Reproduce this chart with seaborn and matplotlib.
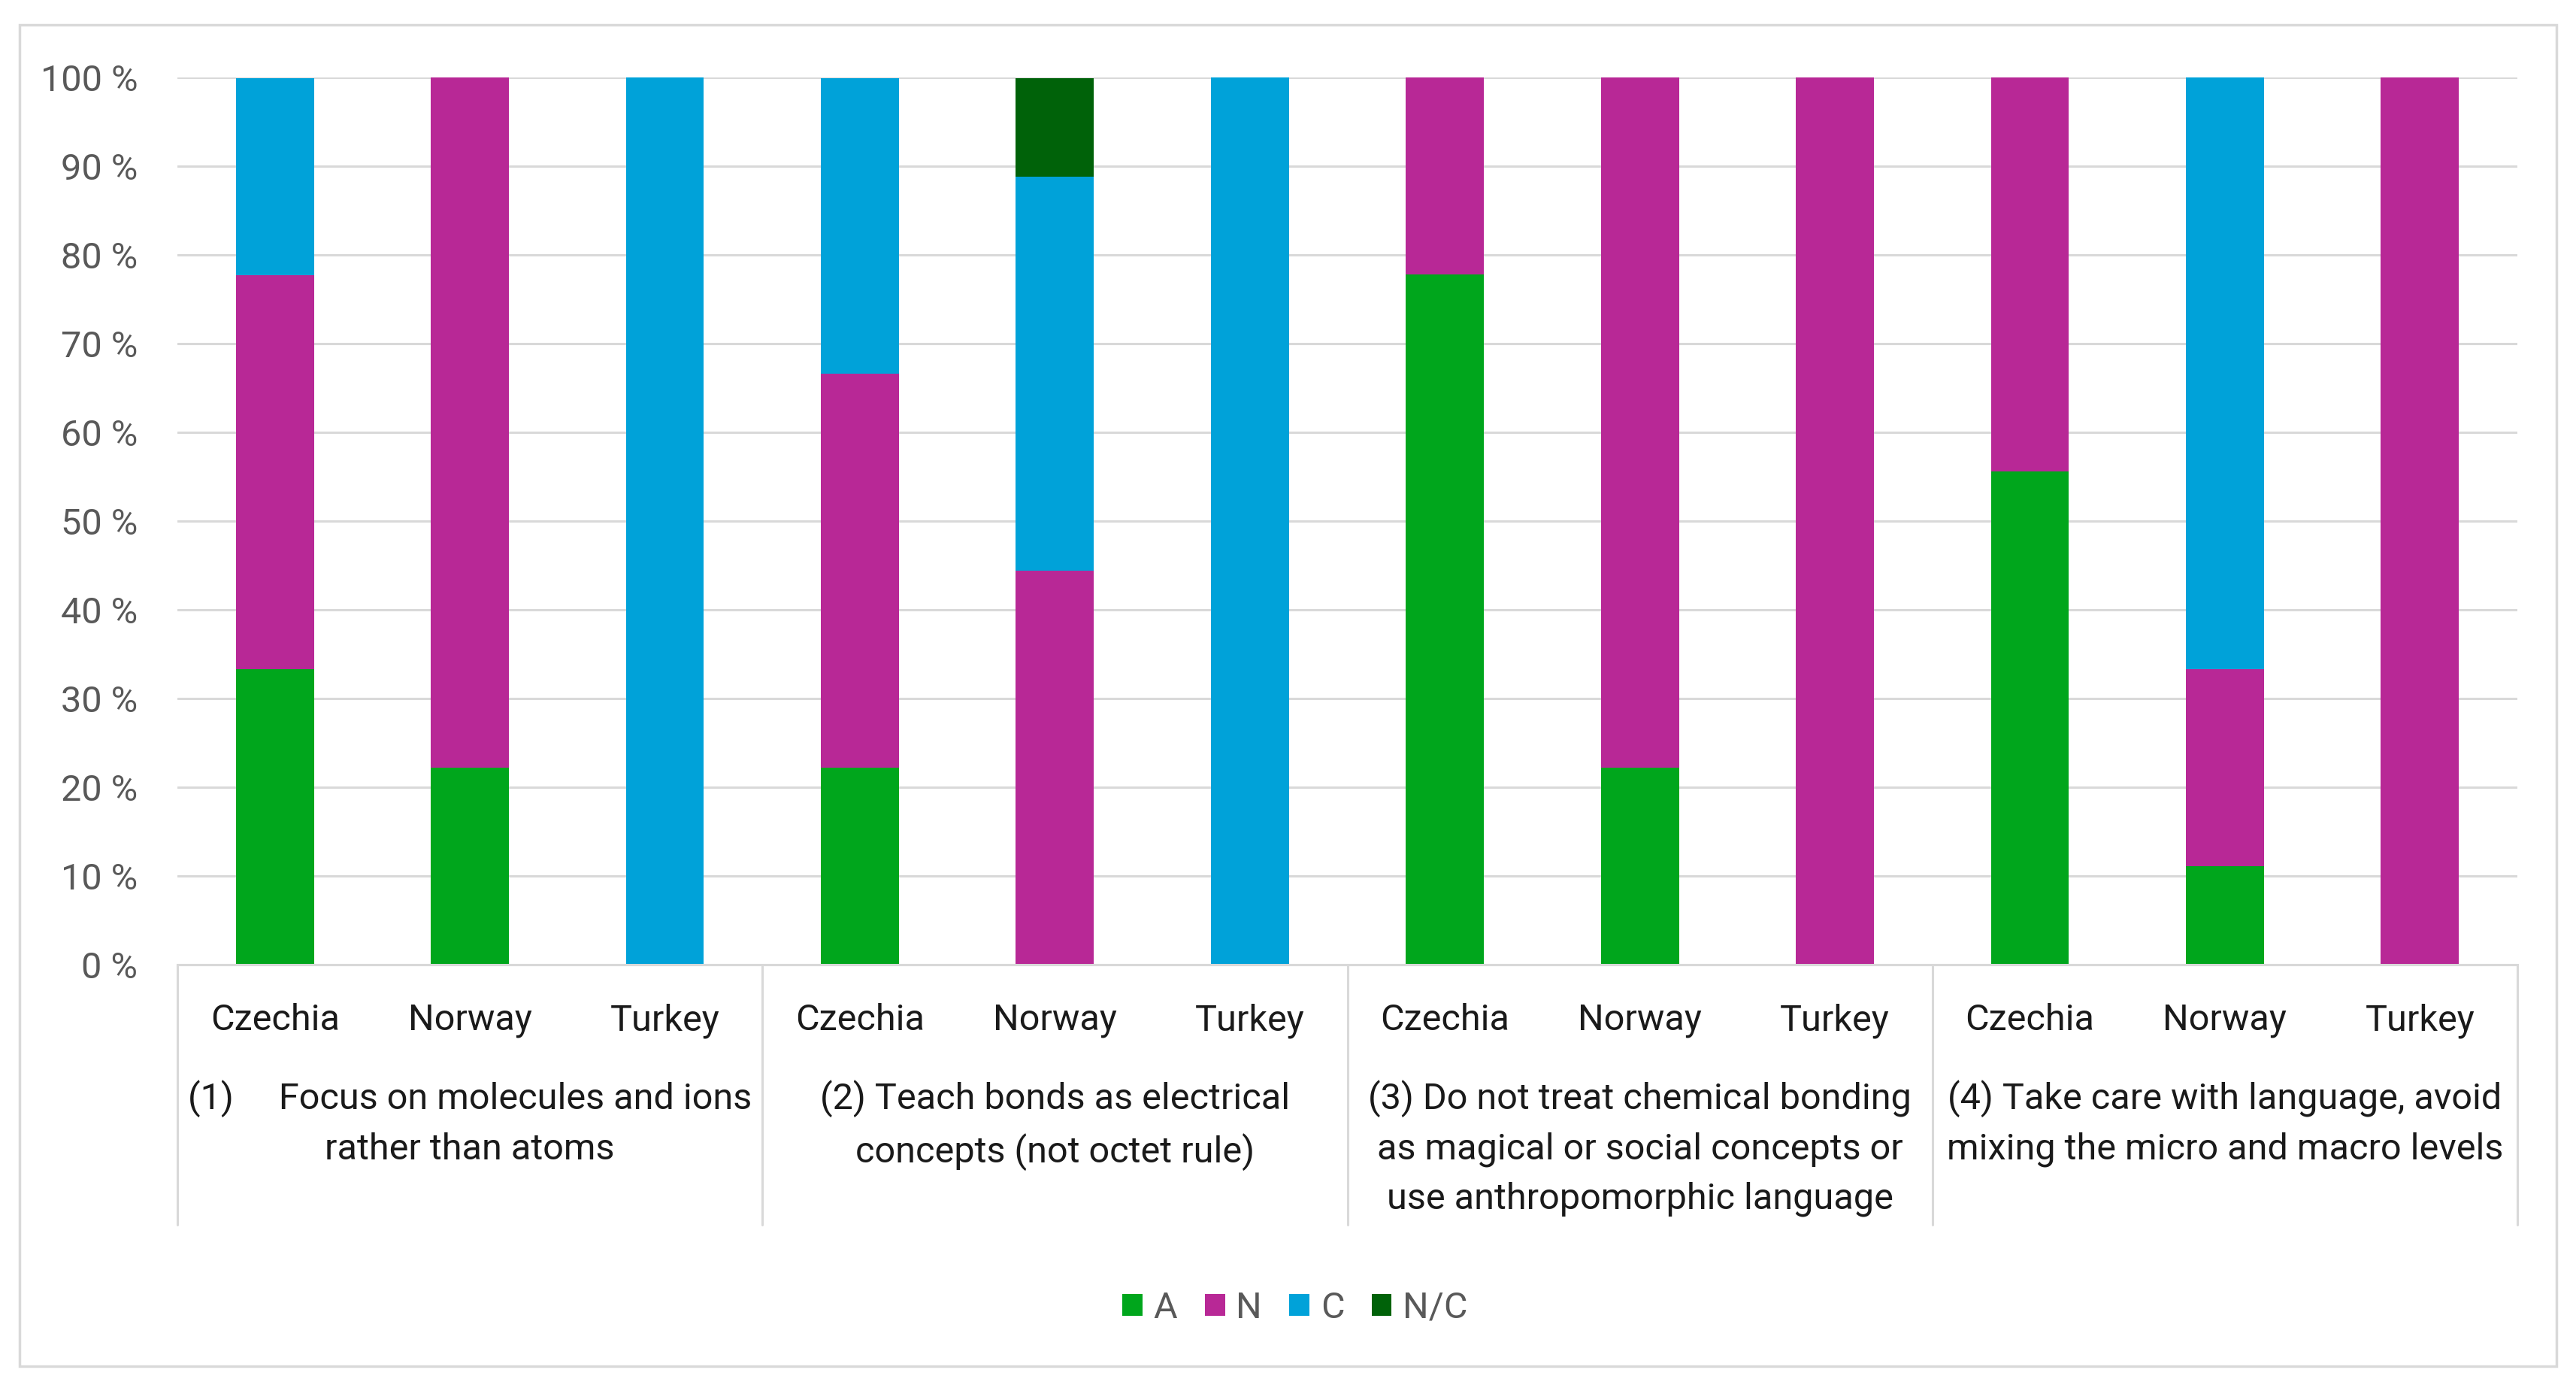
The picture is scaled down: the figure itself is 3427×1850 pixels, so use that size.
import numpy as np
import pandas as pd
import matplotlib
matplotlib.use("Agg")
import matplotlib.pyplot as plt
import matplotlib.transforms as mtransforms
from matplotlib.patches import Patch, Rectangle
import seaborn as sns

# ---------------- data ----------------
countries = ["Czechia", "Norway", "Turkey"] * 4
groups = [
    "(1)     Focus on molecules and ions\nrather than atoms",
    "(2) Teach bonds as electrical\nconcepts (not octet rule)",
    "(3) Do not treat chemical bonding\nas magical or social concepts or\nuse anthropomorphic language",
    "(4) Take care with language, avoid\nmixing the micro and macro levels",
]
series_names = ["A", "N", "C", "N/C"]
A_vals = [33.3, 22.2, 0, 22.2, 0, 0, 77.8, 22.2, 0, 55.6, 11.1, 0]
N_vals = [44.4, 77.8, 0, 44.4, 44.4, 0, 22.2, 77.8, 100, 44.4, 22.2, 100]
C_vals = [22.2, 0, 100, 33.3, 44.4, 100, 0, 0, 0, 0, 66.7, 0]
NC_vals = [0, 0, 0, 0, 11.1, 0, 0, 0, 0, 0, 0, 0]
yticks = [0, 10, 20, 30, 40, 50, 60, 70, 80, 90, 100]
ytick_labels = [f"{v} %" for v in yticks]

colors = ["#00A61C", "#B82896", "#00A2D9", "#006209"]

# ---------------- figure ----------------
sns.set_theme(style="white")
plt.rcParams["font.family"] = ["Roboto", "DejaVu Sans"]

FS = 35
W, H = 3427, 1850
fig = plt.figure(figsize=(W / 100, H / 100), dpi=100)
ax = fig.add_axes([236 / W, 1 - 1283 / H, (3349 - 236) / W, (1283 - 103) / H])

keys = [f"{i}-{c}" for i, c in enumerate(countries)]
df = pd.DataFrame({"key": keys, "A": A_vals, "N": N_vals, "C": C_vals, "N/C": NC_vals})

bottom = np.zeros(len(keys))
for name, col in zip(series_names, colors):
    sns.barplot(data=df, x="key", y=name, order=keys, color=col, saturation=1,
                width=0.4, errorbar=None, bottom=bottom, linewidth=0, ax=ax)
    bottom = bottom + df[name].values

ax.set_xlim(-0.5, len(keys) - 0.5)
ax.set_ylim(0, 100)
ax.set_yticks(yticks)
ax.set_yticklabels(ytick_labels, fontsize=FS, color="#595959")
ax.set_xticks(range(len(keys)))
ax.set_xticklabels(countries, fontsize=FS, color="#1a1a1a")
ax.tick_params(axis="x", length=0, pad=37)
ax.tick_params(axis="y", length=0, pad=38)
ax.set_xlabel("")
ax.set_ylabel("")
ax.yaxis.grid(True, color="#d9d9d9", linewidth=2.2)
ax.set_axisbelow(True)
for s in ["top", "right", "left"]:
    ax.spines[s].set_visible(False)
ax.spines["bottom"].set_color("#d9d9d9")
ax.spines["bottom"].set_linewidth(2.2)

# group dividers and labels
trans = mtransforms.blended_transform_factory(ax.transData, ax.transAxes)
div_bottom = (1283 - 1629) / (1283 - 103)
for b in [-0.5, 2.5, 5.5, 8.5, 11.5]:
    ax.plot([b, b], [0, div_bottom], transform=trans, color="#d9d9d9",
            linewidth=2.2, clip_on=False)
label_top = (1283 - 1436) / (1283 - 103)
for gi, g in enumerate(groups):
    ax.text(gi * 3 + 1, label_top, g, transform=trans, ha="center", va="top",
            fontsize=FS, color="#1a1a1a", linespacing=1.55, multialignment="center")

# legend
handles = [Patch(facecolor=c, edgecolor="none", label=n) for n, c in zip(series_names, colors)]
fig.legend(handles=handles, loc="center", bbox_to_anchor=(1723 / W, 1 - 1740 / H),
           ncol=4, frameon=False, fontsize=FS, handlelength=0.55, handleheight=0.55,
           handletextpad=0.3, columnspacing=0.75, labelcolor="#595959")

# outer border
fig.patches.append(Rectangle((26 / W, 1 - 1817 / H), (3401 - 26) / W, (1817 - 33) / H,
                             transform=fig.transFigure, fill=False,
                             edgecolor="#d9d9d9", linewidth=2.5))

fig.savefig("out.png", dpi=100, facecolor="white")
